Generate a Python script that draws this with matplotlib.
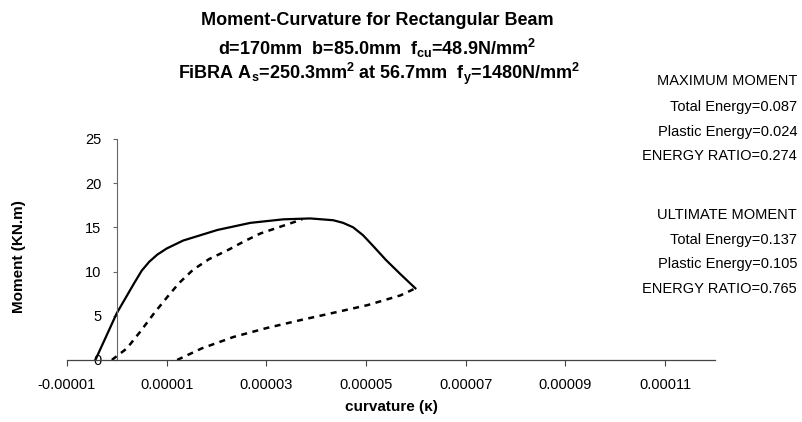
import matplotlib.pyplot as plt

plt.rcParams['font.family'] = ['Liberation Sans', 'DejaVu Sans']
plt.rcParams['mathtext.fontset'] = 'custom'
plt.rcParams['mathtext.rm'] = 'Liberation Sans'
plt.rcParams['mathtext.bf'] = 'Liberation Sans:bold'

# loading curve (solid)
load_k = [-0.43e-5, 0.0, 0.35e-5, 0.5e-5, 0.65e-5, 0.81e-5, 1.0e-5, 1.33e-5, 2.02e-5, 2.68e-5,
          3.34e-5, 3.88e-5, 4.34e-5, 4.54e-5, 4.74e-5, 4.94e-5, 5.14e-5, 5.4e-5, 5.69e-5, 5.99e-5]
load_m = [0.0, 5.3, 8.7, 10.1, 11.1, 11.9, 12.6, 13.5, 14.7, 15.5,
          15.9, 16.0, 15.8, 15.5, 15.0, 14.1, 12.9, 11.3, 9.7, 8.1]

# unloading from maximum moment (dashed)
unl1_k = [-0.1e-5, 0.2e-5, 0.47e-5, 0.75e-5, 1.01e-5, 1.25e-5, 1.53e-5, 1.85e-5,
          2.22e-5, 2.55e-5, 2.88e-5, 3.3e-5, 3.72e-5]
unl1_m = [0.0, 1.3, 3.2, 5.3, 7.1, 8.7, 10.2, 11.4,
          12.4, 13.4, 14.3, 15.1, 15.9]

# unloading from ultimate moment (dashed)
unl2_k = [1.21e-5, 1.7e-5, 2.34e-5, 3.0e-5, 3.68e-5, 4.4e-5, 5.03e-5, 5.69e-5, 5.99e-5]
unl2_m = [0.0, 1.3, 2.6, 3.6, 4.5, 5.4, 6.2, 7.3, 8.1]

xticks = [-1e-5, 1e-5, 3e-5, 5e-5, 7e-5, 9e-5, 11e-5]
xtick_labels = ['-0.00001', '0.00001', '0.00003', '0.00005', '0.00007', '0.00009', '0.00011']
yticks = [0, 5, 10, 15, 20, 25]

notes = ['MAXIMUM MOMENT', 'Total Energy=0.087', 'Plastic Energy=0.024', 'ENERGY RATIO=0.274',
         'ULTIMATE MOMENT', 'Total Energy=0.137', 'Plastic Energy=0.105', 'ENERGY RATIO=0.765']

fig = plt.figure(figsize=(8.02, 4.22), dpi=100)
ax = fig.add_axes([0.0835, 0.147, 0.808, 0.524])

ax.plot(load_k, load_m, color='black', lw=1.6, solid_joinstyle='round')
ax.plot(unl1_k, unl1_m, color='black', lw=1.8, dashes=(2.4, 2.2))
ax.plot(unl2_k, unl2_m, color='black', lw=1.8, dashes=(2.4, 2.2))

ax.set_xlim(-1e-5, 12e-5)
ax.set_ylim(0, 25)

for s in ['top', 'right']:
    ax.spines[s].set_visible(False)
ax.spines['left'].set_position(('data', 0))
ax.spines['left'].set_color('#666666')
ax.spines['bottom'].set_color('#444444')
ax.spines['left'].set_linewidth(0.8)
ax.spines['bottom'].set_linewidth(0.9)

ax.set_xticks(xticks)
ax.set_xticklabels(xtick_labels)
ax.set_yticks(yticks)
ax.tick_params(axis='x', direction='out', length=4, width=0.8, color='#444444',
               labelsize=10.5, pad=9)
ax.tick_params(axis='y', direction='out', length=3, width=0.8, color='#666666',
               labelsize=10.5, pad=8)

ax.set_xlabel('curvature (κ)', fontsize=11, fontweight='bold', labelpad=6)
fig.text(0.024, 0.393, 'Moment (KN.m)', rotation=90, fontsize=11, fontweight='bold',
         ha='center', va='center')

fig.text(0.470, 0.952, 'Moment-Curvature for Rectangular Beam', ha='center', va='center',
         fontsize=13, fontweight='bold')
fig.text(0.470, 0.886, r'd=170mm  b=85.0mm  f$_{\mathbf{cu}}$=48.9N/mm$^{\mathbf{2}}$',
         ha='center', va='center', fontsize=13, fontweight='bold')
fig.text(0.472, 0.824, r'FiBRA A$_{\mathbf{s}}$=250.3mm$^{\mathbf{2}}$ at 56.7mm  f$_{\mathbf{y}}$=1480N/mm$^{\mathbf{2}}$',
         ha='center', va='center', fontsize=13, fontweight='bold')

ys = [81, 107, 132, 156, 215, 240, 264, 289]
for t, y in zip(notes, ys):
    fig.text(797 / 802, 1 - y / 422, t, ha='right', va='center', fontsize=10.5)

fig.savefig('out.png', dpi=100)
